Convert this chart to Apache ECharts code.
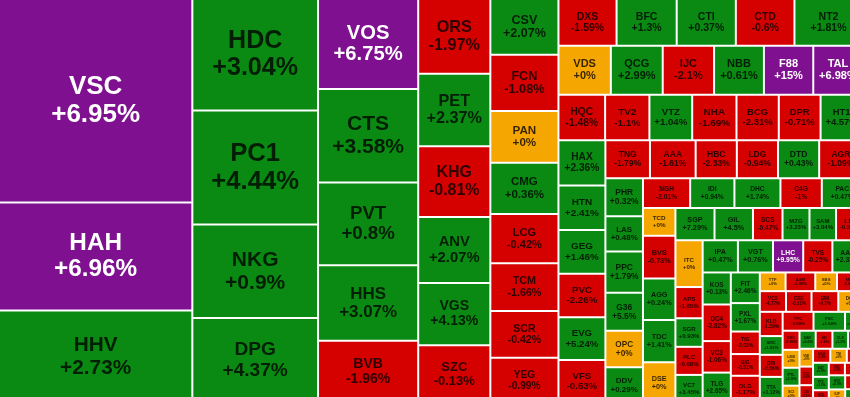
<!DOCTYPE html>
<html>
<head>
<meta charset="utf-8">
<script src="https://cdn.jsdelivr.net/npm/echarts@6/dist/echarts.min.js"></script>
<style>
  html, body { margin: 0; padding: 0; overflow: hidden; background: #ffffff; }
  #heatmap { width: 920px; height: 404px; }
</style>
</head>
<body>
<div id="heatmap"></div>
<script>
// big caps block, read column by column (sizes = traded value weight)
var leftCodes = ['VSC', 'HAH', 'HHV', 'HDC', 'PC1', 'NKG', 'DPG', 'VOS', 'CTS', 'PVT', 'HHS', 'BVB',
  'ORS', 'PET', 'KHG', 'ANV', 'VGS', 'SZC', 'CSV', 'FCN', 'PAN', 'CMG', 'LCG', 'TCM', 'SCR', 'YEG'];
var leftSizes = [39083, 20748, 17756, 13931, 14244, 11672, 10605, 8950, 9300, 8250, 7500, 6200,
  5364, 5184, 5076, 4716, 4464, 4140, 3774, 3808, 3502, 3468, 3332, 3230, 3162, 3060];
var leftChanges = [6.95, 6.96, 2.73, 3.04, 4.44, 0.9, 4.37, 6.75, 3.58, 0.8, 3.07, -1.96,
  -1.97, 2.37, -0.81, 2.07, 4.13, -0.13, 2.07, -1.08, 0, 0.36, -0.42, -1.66, -0.42, -0.99];

// the rest, smaller tickers
var rightCodes = ['DXS', 'BFC', 'CTI', 'CTD', 'NT2',
  'VDS', 'QCG', 'IJC', 'NBB', 'F88', 'TAL',
  'HQC', 'TV2', 'VTZ', 'NHA', 'BCG', 'DPR', 'HT1',
  'HAX', 'HTN', 'GEG', 'PVC', 'EVG', 'VFS',
  'TNG', 'AAA', 'HBC', 'LDG', 'DTD', 'AGR', 'PHR',
  'LAS', 'PPC', 'G36', 'OPC', 'DDV',
  'MSH', 'IDI', 'DHC', 'C4G', 'PAC', 'TCD',
  'BVS', 'AGG', 'TDC', 'DSE', 'SGP', 'GIL',
  'SCS', 'MZG', 'SAM', 'L14', 'ITC',
  'APS', 'SGR', 'PLC', 'VC7', 'IPA',
  'VGT', 'LHC', 'TVS', 'AAS', 'KOS',
  'DC4', 'VC3', 'TLG', 'FIT', 'PXL',
  'TIG', 'BIG', 'DLG', 'TTF', 'ASM', 'SBS',
  'MIG', 'VCS', 'CRE', 'BMI', 'DCL', 'KLB', 'SMC',
  'DRI', 'TTA', 'TPC', 'PSC',
  'CTF', 'DSC', 'LM8', 'PTL', 'SCI', 'NAV', 'HII', 'CLX', 'ABR', 'VNE', 'TCO', 'CIG',
  'HAS', 'TNI', 'TDG', 'DAT', 'PTC', 'HCD', 'VRC', 'PVL', 'HVX', 'SJF', 'TTH', 'NHV'];
var rightSizes = [2697, 2790, 2744, 2720, 3162,
  2550, 2524, 2499, 2426, 2401, 2401,
  2110, 2003, 1935, 2003, 1913, 1890, 1900,
  2116, 2069, 2046, 2023, 2000, 2000,
  1679, 1721, 1551, 1551, 1551, 1636, 1424,
  1316, 1544, 1414, 1365, 1333,
  1397, 1311, 1363, 1225, 1208, 897,
  1377, 1337, 1357, 1316, 1256, 1235,
  949, 866, 853, 853, 1265,
  845, 772, 760, 760, 1127,
  1121, 966, 932, 966, 897,
  1024, 882, 851, 882, 819,
  649, 625, 784, 478, 551, 404,
  475, 538, 525, 550, 500, 550, 425,
  500, 592, 580, 592,
  330, 320, 300, 300, 290, 290, 300, 280, 260, 240, 250, 240,
  240, 230, 220, 220, 210, 200, 200, 220, 230, 220, 240, 240];
var rightChanges = [-1.59, 1.3, 0.37, -0.6, 1.81,
  0, 2.99, -2.1, 0.61, 15, 6.98,
  -1.48, -1.1, 1.04, -1.69, -2.31, -0.71, 4.57,
  2.36, 2.41, 1.46, -2.26, 5.24, -0.53,
  -1.79, -1.61, -2.33, -0.94, 0.43, -1.09, 0.32,
  0.48, 1.79, 5.5, 0, 0.29,
  -2.01, 0.94, 1.74, -1, 0.47, 0,
  -0.73, 0.24, 1.41, 0, 7.29, 4.5,
  -0.47, 3.23, 3.04, -0.54, 0,
  -1.65, 0.93, -0.68, 3.45, 0.47,
  0.76, 9.95, -0.25, 2.38, 0.13,
  -2.82, -1.06, 2.65, 2.46, 1.67,
  -2.02, -0.51, -1.17, 0, -0.92, 0,
  -2.99, -4.77, -0.31, -0.7, 0, -1.39, 1.93,
  -0.56, 1.12, -0.88, 1.04,
  0.77, -0.88, 0, 1.5, 0, 0.6, -1.8, 1.2, -1.2, 0, -0.9, -2.1,
  -0.4, 0, -1.1, 0.8, 1.1, -0.6, -1.5, -1.6, 0.9, 0, -2.2, 0.5];

// tickers past the right edge of the shot, lumped together
var offFrameSize = 18622;

// closed at ceiling price
var ceilingCodes = ['VSC', 'HAH', 'VOS', 'F88', 'TAL', 'LHC'];

var chart = echarts.init(document.getElementById('heatmap'));
var BOX = [-1, -1, 910, 404];

function cellColor(code, chg) {
  if (ceilingCodes.indexOf(code) >= 0) return '#7f1190';
  if (chg > 0) return '#0a8a12';
  if (chg < 0) return '#d50000';
  return '#f6a600';
}

function fmtChange(v) {
  return (v >= 0 ? '+' : '') + v + '%';
}

function sum(arr) {
  return arr.reduce(function (a, b) { return a + b; }, 0);
}

function buildData(codes, sizes, changes, fonts) {
  return codes.map(function (c, i) {
    var fs = fonts[c] || Math.max(3, Math.min(26, Math.sqrt(sizes[i]) * 0.2));
    return {
      name: c,
      value: sizes[i],
      chg: changes[i],
      itemStyle: { color: cellColor(c, changes[i]), borderWidth: 1, borderColor: '#ffffff' },
      label: {
        fontSize: fs,
        lineHeight: fs * 1.08,
        color: ceilingCodes.indexOf(c) >= 0 ? '#ffffff' : 'rgba(0,0,0,0.78)'
      }
    };
  });
}

function makeSeries(name, box, ratio, data) {
  return {
    type: 'treemap',
    name: name,
    left: box[0], top: box[1], width: box[2], height: box[3],
    roam: false,
    nodeClick: false,
    sort: false,
    squareRatio: ratio,
    breadcrumb: { show: false },
    itemStyle: { borderWidth: 0, gapWidth: 0, borderColor: '#ffffff' },
    upperLabel: { show: false },
    label: {
      show: true,
      position: 'inside',
      align: 'center',
      verticalAlign: 'middle',
      padding: 0,
      overflow: 'none',
      fontFamily: 'Liberation Sans, Arial, sans-serif',
      fontWeight: 'bold',
      formatter: function (p) {
        return p.data.chg == null ? '' : p.name + '\n' + fmtChange(p.data.chg);
      }
    },
    data: data
  };
}

var othersSize = sum(rightSizes) + offFrameSize;

// big caps get the full canvas; the small tickers are packed into the strip the
// big block leaves free at its end
function bigSeries(fonts) {
  var data = buildData(leftCodes, leftSizes, leftChanges, fonts);
  data.push({
    name: 'others',
    value: othersSize,
    itemStyle: { color: 'transparent', borderWidth: 0 },
    label: { show: false },
    silent: true
  });
  return makeSeries('big', BOX, 1.25, data);
}

function layoutsOf(seriesIndex) {
  var out = {};
  try {
    var data = chart.getModel().getSeriesByIndex(seriesIndex).getData();
    for (var i = 0; i < data.count(); i++) {
      var lay = data.getItemLayout(i);
      if (lay) out[data.getName(i)] = lay;
    }
  } catch (e) {}
  return out;
}

chart.setOption({ animation: false, series: [bigSeries({})] });

var rest = layoutsOf(0).others;
if (!rest) {
  var share = othersSize / (sum(leftSizes) + othersSize);
  rest = { x: BOX[2] * (1 - share), y: 0, width: BOX[2] * share, height: BOX[3] };
}
// keep only the part of the strip that the visible tickers fill
var restBox = [BOX[0] + rest.x, BOX[1] + rest.y, rest.width * sum(rightSizes) / othersSize, rest.height];

function render(fonts) {
  chart.setOption({
    animation: false,
    series: [
      bigSeries(fonts),
      makeSeries('small', restBox, 0.895, buildData(rightCodes, rightSizes, rightChanges, fonts))
    ]
  });
}

render({});

// font follows the short side of each cell
var fonts = {};
[0, 1].forEach(function (si) {
  var lays = layoutsOf(si);
  Object.keys(lays).forEach(function (k) {
    var side = Math.min(lays[k].width, lays[k].height);
    fonts[k] = Math.max(3, Math.min(26, side * 0.225));
  });
});
render(fonts);
</script>
</body>
</html>
